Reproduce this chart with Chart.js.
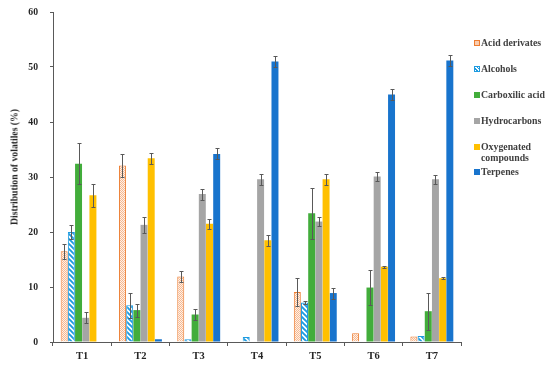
<!DOCTYPE html>
<html>
<head>
<meta charset="utf-8">
<script src="https://cdn.jsdelivr.net/npm/chart.js@4.4.0/dist/chart.umd.min.js"></script>
<style>
    body { margin: 0; background: #fff; }
    #wrap { position: relative; width: 550px; height: 367px; }
    #ytitle {
        position: absolute; left: 14px; top: 167px;
        transform: translate(-50%, -50%) rotate(-90deg);
        font: bold 9.7px "Liberation Serif", serif; color: #262626; white-space: nowrap;
    }
    #legend { position: absolute; left: 474px; top: 37px; font: bold 9.8px "Liberation Serif", serif; color: #404040; }
    .item { position: absolute; left: 0; white-space: nowrap; line-height: 11px; }
    .sw { position: absolute; left: 0; top: 2.5px; width: 6px; height: 6px; box-sizing: border-box; }
    .txt { position: absolute; left: 7px; top: 0; }
</style>
</head>
<body>
<div id="wrap">
    <canvas id="chart" width="550" height="367"></canvas>
    <div id="ytitle">Distribution of volatiles (%)</div>
    <div id="legend"></div>
</div>
<script>
// Data
const categories = ['T1', 'T2', 'T3', 'T4', 'T5', 'T6', 'T7'];
const seriesNames = ['Acid derivates', 'Alcohols', 'Carboxilic acid', 'Hydrocarbons', 'Oxygenated compounds', 'Terpenes'];

const acidDerivates = [16.5, 32.1, 11.9, 0, 9.1, 1.6, 1.0];
const alcohols = [20.0, 6.7, 0.5, 0.9, 7.2, 0, 1.1];
const carboxilicAcid = [32.4, 5.8, 5.0, 0, 23.4, 9.9, 5.6];
const hydrocarbons = [4.4, 21.3, 26.9, 29.6, 21.9, 30.1, 29.6];
const oxygenated = [26.7, 33.4, 21.5, 18.5, 29.6, 13.7, 11.6];
const terpenes = [0, 0.5, 34.2, 51.0, 8.9, 45.0, 51.2];

const acidErr = [1.4, 2.1, 1.0, 0, 2.5, 0, 0];
const alcoholsErr = [1.3, 2.3, 0, 0, 0.3, 0, 0];
const carboxilicErr = [3.7, 1.2, 1.0, 0, 4.6, 3.2, 3.4];
const hydrocarbonsErr = [1.0, 1.4, 1.0, 1.0, 0.8, 0.8, 0.8];
const oxygenatedErr = [2.1, 1.0, 0.9, 1.0, 1.0, 0.2, 0.2];
const terpenesErr = [0, 0, 1.0, 1.0, 1.0, 1.0, 1.0];

const yTicks = [0, 10, 20, 30, 40, 50, 60];

// Fill patterns
function dotPattern() {
    const c = document.createElement('canvas');
    c.width = 2; c.height = 2;
    const g = c.getContext('2d');
    g.fillStyle = '#FDF1E8';
    g.fillRect(0, 0, 2, 2);
    g.fillStyle = '#F7B890';
    g.fillRect(0, 0, 1, 1);
    g.fillRect(1, 1, 1, 1);
    return g.createPattern(c, 'repeat');
}

function stripePattern() {
    const c = document.createElement('canvas');
    c.width = 5; c.height = 5;
    const g = c.getContext('2d');
    g.fillStyle = '#fff';
    g.fillRect(0, 0, 5, 5);
    g.strokeStyle = '#1E9BE0';
    g.lineWidth = 1.9;
    g.beginPath();
    g.moveTo(-1, -1); g.lineTo(6, 6);
    g.moveTo(-1, 4); g.lineTo(1, 6);
    g.moveTo(4, -1); g.lineTo(6, 1);
    g.stroke();
    return g.createPattern(c, 'repeat');
}

const colors = ['#ED7D31', '#1E9BE0', '#42AD3B', '#A5A5A5', '#FFC000', '#1874CD'];
const fills = [dotPattern(), stripePattern(), colors[2], colors[3], colors[4], colors[5]];
const values = [acidDerivates, alcohols, carboxilicAcid, hydrocarbons, oxygenated, terpenes];
const errors = [acidErr, alcoholsErr, carboxilicErr, hydrocarbonsErr, oxygenatedErr, terpenesErr];

// Error bars drawn from the y scale
const errorBars = {
    id: 'errorBars',
    afterDatasetsDraw(chart) {
        const g = chart.ctx;
        const y = chart.scales.y;
        g.save();
        g.strokeStyle = '#595959';
        g.lineWidth = 1;
        chart.data.datasets.forEach((ds, i) => {
            const meta = chart.getDatasetMeta(i);
            meta.data.forEach((bar, j) => {
                const e = ds.errors[j];
                if (!e) return;
                const v = ds.data[j];
                const top = Math.round(y.getPixelForValue(v + e)) + 0.5;
                const bot = Math.round(y.getPixelForValue(Math.max(0, v - e))) + 0.5;
                const x = Math.round(bar.x) + 0.5;
                g.beginPath();
                g.moveTo(x, top); g.lineTo(x, bot);
                g.moveTo(x - 2, top); g.lineTo(x + 2, top);
                g.moveTo(x - 2, bot); g.lineTo(x + 2, bot);
                g.stroke();
            });
        });
        g.restore();
    }
};

const ctx = document.getElementById('chart').getContext('2d');
const chart = new Chart(ctx, {
    type: 'bar',
    data: {
        labels: categories,
        datasets: seriesNames.map((name, i) => ({
            label: name,
            data: values[i],
            errors: errors[i],
            backgroundColor: fills[i],
            borderColor: colors[i],
            borderWidth: i < 2 ? 1 : 0,
            barPercentage: 0.97,
            categoryPercentage: 0.74
        }))
    },
    options: {
        responsive: false,
        animation: false,
        layout: { padding: { top: 12, right: 89, left: 0, bottom: 0 } },
        plugins: { legend: { display: false }, tooltip: { enabled: false } },
        scales: {
            x: {
                grid: { display: true, drawOnChartArea: false, drawTicks: true, tickLength: 4, color: '#595959', offset: true },
                border: { color: '#595959', width: 1 },
                ticks: { color: '#262626', font: { family: 'Liberation Serif', weight: 'bold', size: 10.5 }, padding: 4 },
                afterFit(s) { s.height = 25; }
            },
            y: {
                min: 0,
                max: 60,
                afterBuildTicks(s) { s.ticks = yTicks.map(v => ({ value: v })); },
                grid: { display: true, drawOnChartArea: false, drawTicks: true, tickLength: 3, color: '#595959' },
                border: { color: '#595959', width: 1 },
                ticks: { color: '#262626', font: { family: 'Liberation Serif', weight: 'bold', size: 9.7 }, padding: 12 },
                afterFit(s) {
                    s.width = 53;
                    s.paddingTop = 0;
                    s.paddingBottom = 0;
                }
            }
        }
    },
    plugins: [errorBars]
});

// HTML legend
const legendTops = [0, 26, 52, 78, 104, 129];
const legend = document.getElementById('legend');
seriesNames.forEach((name, i) => {
    const item = document.createElement('div');
    item.className = 'item';
    item.style.top = legendTops[i] + 'px';
    const sw = document.createElement('span');
    sw.className = 'sw';
    if (i === 0) {
        sw.style.border = '1px solid ' + colors[0];
        sw.style.background = '#F9CCAF';
    } else if (i === 1) {
        sw.style.border = '1px solid ' + colors[1];
        sw.style.background = 'repeating-linear-gradient(45deg, #fff 0 1.2px, #1E9BE0 1.2px 2.4px)';
    } else {
        sw.style.background = colors[i];
    }
    const txt = document.createElement('span');
    txt.className = 'txt';
    if (i === 4) {
        txt.innerHTML = 'Oxygenated<br>compounds';
    } else {
        txt.textContent = name;
    }
    item.appendChild(sw);
    item.appendChild(txt);
    legend.appendChild(item);
});
</script>
</body>
</html>
